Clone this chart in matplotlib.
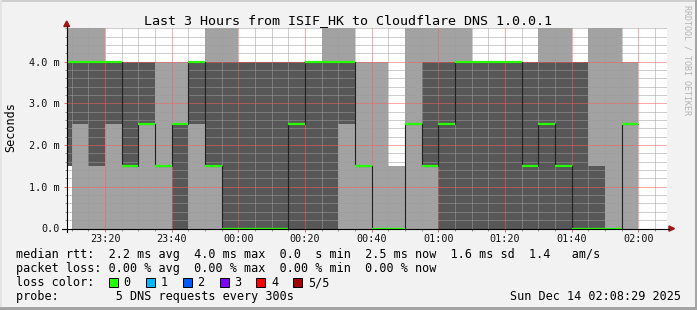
import numpy as np
import matplotlib
matplotlib.use("Agg")
import matplotlib.pyplot as plt
from matplotlib.patches import Rectangle, Polygon
from matplotlib.lines import Line2D

# ---------------- data ----------------
bin_end = ["23:10", "23:15", "23:20", "23:25", "23:30", "23:35", "23:40", "23:45",
           "23:50", "23:55", "00:00", "00:05", "00:10", "00:15", "00:20", "00:25",
           "00:30", "00:35", "00:40", "00:45", "00:50", "00:55", "01:00", "01:05",
           "01:10", "01:15", "01:20", "01:25", "01:30", "01:35", "01:40", "01:45",
           "01:50", "01:55", "02:00"]
step_min = 5
# sorted ping results per step (ms)
ping1 = [1.5, 0, 0, 0, 0, 0, 0, 0, 0, 0,
         0, 0, 0, 0, 0, 0, 0, 0, 0, 0,
         0, 0, 0, 0, 0, 0, 0, 0, 0, 0,
         0, 0, 0, 0, 0]
ping2 = [1.5, 2.5, 1.5, 2.5, 1.5, 2.5, 1.5, 0, 2.5, 1.5,
         0, 0, 0, 0, 0, 0, 0, 2.5, 1.5, 0,
         0, 2.5, 1.5, 0, 0, 0, 0, 0, 0, 0,
         0, 0, 0, 0, 2.5]
ping3 = [4.0, 4.0, 4.0, 4.0, 1.5, 2.5, 1.5, 2.5, 4.0, 1.5,
         0, 0, 0, 0, 2.5, 4.0, 4.0, 4.0, 1.5, 0,
         0, 2.5, 1.5, 2.5, 4.0, 4.0, 4.0, 4.0, 1.5, 2.5,
         1.5, 0, 0, 0, 2.5]
ping4 = [4.0, 4.0, 4.0, 4.0, 4.0, 4.0, 1.5, 2.5, 4.0, 4.0,
         4.0, 4.0, 4.0, 4.0, 4.0, 4.0, 4.0, 4.0, 1.5, 0,
         0, 2.5, 4.0, 4.0, 4.0, 4.0, 4.0, 4.0, 4.0, 4.0,
         4.0, 4.0, 1.5, 0, 2.5]
ping5 = [4.8, 4.8, 4.8, 4.0, 4.0, 4.0, 4.0, 4.0, 4.0, 4.8,
         4.8, 4.0, 4.0, 4.0, 4.0, 4.0, 4.8, 4.8, 4.0, 4.0,
         1.5, 4.8, 4.8, 4.8, 4.8, 4.0, 4.0, 4.0, 4.0, 4.8,
         4.8, 4.0, 4.8, 4.8, 4.0]

view_start = "23:08:29"
view_end = "02:08:29"
x_tick_labels = ["23:20", "23:40", "00:00", "00:20", "00:40", "01:00", "01:20", "01:40", "02:00"]
y_ticks = [0, 1, 2, 3, 4]
y_tick_labels = ["0.0", "1.0 m", "2.0 m", "3.0 m", "4.0 m"]

title = "Last 3 Hours from ISIF_HK to Cloudflare DNS 1.0.0.1"
legend_rows = [
    "median rtt:  2.2 ms avg  4.0 ms max  0.0  s min  2.5 ms now  1.6 ms sd  1.4   am/s",
    "packet loss: 0.00 % avg  0.00 % max  0.00 % min  0.00 % now",
    "loss color:",
    "probe:        5 DNS requests every 300s",
]
loss_labels = ["0", "1", "2", "3", "4", "5/5"]
loss_colors = ["#26ff00", "#00b8ff", "#0059ff", "#7e00ff", "#ff0000", "#a10000"]
date_text = "Sun Dec 14 02:08:29 2025"
watermark = "RRDTOOL / TOBI OETIKER"


def to_min(s):
    parts = [int(p) for p in s.split(":")]
    h, m = parts[0], parts[1]
    sec = parts[2] if len(parts) > 2 else 0
    if h < 12:
        h += 24
    return h * 60 + m + sec / 60.0


ends = np.array([to_min(t) for t in bin_end])
edges = np.concatenate([[ends[0] - step_min], ends])
p1, p2, p3, p4, p5 = (np.array(p) for p in (ping1, ping2, ping3, ping4, ping5))

# ---------------- figure ----------------
W, H = 697, 310
MONO = "DejaVu Sans Mono"
fig = plt.figure(figsize=(W / 100, H / 100), dpi=100, facecolor="#F2F2F2")


def fx(x):
    return x / W


def fy(y):
    return 1 - y / H


L, R, T, B = 66.7, 666.7, 28.0, 228.5
ax = fig.add_axes([fx(L), fy(B), (R - L) / W, (B - T) / H])
ax.set_facecolor("white")
ax.set_xlim(to_min(view_start), to_min(view_end))
ax.set_ylim(0, 4.81)
for s in ax.spines.values():
    s.set_visible(False)

# smoke
ax.stairs(p5, edges, baseline=p1, fill=True, color="#A2A2A2", lw=0, zorder=1)
ax.stairs(p4, edges, baseline=p2, fill=True, color="#575757", lw=0, zorder=1.1)
# median
ax.stairs(p3, edges, baseline=None, color="#202020", lw=0.8, zorder=3)
ax.hlines(p3, edges[:-1], edges[1:], colors=loss_colors[0], lw=1.6, zorder=4)

# ticks & grid
ax.set_xticks([to_min(t) for t in x_tick_labels])
ax.set_xticklabels(x_tick_labels, family=MONO, fontsize=7.3)
ax.set_xticks(np.arange(to_min("23:10"), to_min("02:06"), step_min), minor=True)
ax.set_yticks(y_ticks)
ax.set_yticklabels(y_tick_labels, family=MONO, fontsize=7.3)
ax.set_yticks(np.arange(0, 4.81, 0.2), minor=True)
ax.set_axisbelow(False)
ax.grid(which="minor", color=(0.62, 0.62, 0.62, 0.45), lw=0.72, ls=(0, (1, 1)))
ax.grid(which="major", color=(1.0, 0.35, 0.35, 0.45), lw=0.72, ls=(0, (1, 1)))
ax.tick_params(which="major", direction="out", length=2.2, width=0.72,
               color="#e07070", labelcolor="#111111")
ax.tick_params(which="minor", direction="out", length=1.5, width=0.72, color="#909090")
ax.tick_params(axis="x", which="major", pad=2.0)
ax.tick_params(axis="y", which="major", pad=2.6)

# axis lines + arrows
fig.add_artist(Line2D([fx(62), fx(669)], [fy(B), fy(B)], color="black", lw=0.8))
fig.add_artist(Line2D([fx(L), fx(L)], [fy(232), fy(26)], color="black", lw=0.8))
fig.add_artist(Polygon([(fx(669), fy(226)), (fx(669), fy(231.2)), (fx(674.5), fy(228.6))],
                       closed=True, transform=fig.transFigure, color="#A01515"))
fig.add_artist(Polygon([(fx(63.8), fy(26.5)), (fx(69.6), fy(26.5)), (fx(66.7), fy(21))],
                       closed=True, transform=fig.transFigure, color="#A01515"))

# texts
fig.text(fx(347.5), fy(24), title, ha="center", va="baseline", family=MONO, fontsize=9.6)
fig.text(fx(11), fy(127), "Seconds", rotation=90, ha="center", va="center",
         family=MONO, fontsize=8.5)
baselines = [258.3, 272.2, 286.2, 300.0]
for row, yb in zip(legend_rows, baselines):
    fig.text(fx(16), fy(yb), row, ha="left", va="baseline", family=MONO, fontsize=8.5)
for i, (lab, col) in enumerate(zip(loss_labels, loss_colors)):
    x0 = 109.2 + i * 36.8
    fig.add_artist(Rectangle((fx(x0), fy(286.5)), 9 / W, 9 / H, transform=fig.transFigure,
                             facecolor=col, edgecolor="black", lw=0.72))
    fig.text(fx(x0 + 14.5), fy(286.2), lab, ha="left", va="baseline", family=MONO, fontsize=8.5)
fig.text(fx(681), fy(300.0), date_text, ha="right", va="baseline", family=MONO, fontsize=8.5)
fig.text(fx(687.5), fy(5), watermark, rotation=270, ha="center", va="top",
         family=MONO, fontsize=6, color="#b4b4b4")

# frame
fig.add_artist(Rectangle((0, fy(2)), 1, 2 / H, transform=fig.transFigure, color="#cfcfcf", lw=0))
fig.add_artist(Rectangle((0, 0), 2 / W, 1, transform=fig.transFigure, color="#e4e4e4", lw=0))
fig.add_artist(Rectangle((fx(694.5), 0), 2.5 / W, 1, transform=fig.transFigure, color="#a4a4a4", lw=0))
fig.add_artist(Rectangle((0, 0), 1, 3 / H, transform=fig.transFigure, color="#a4a4a4", lw=0))

fig.savefig("out.png", dpi=100, facecolor=fig.get_facecolor())
